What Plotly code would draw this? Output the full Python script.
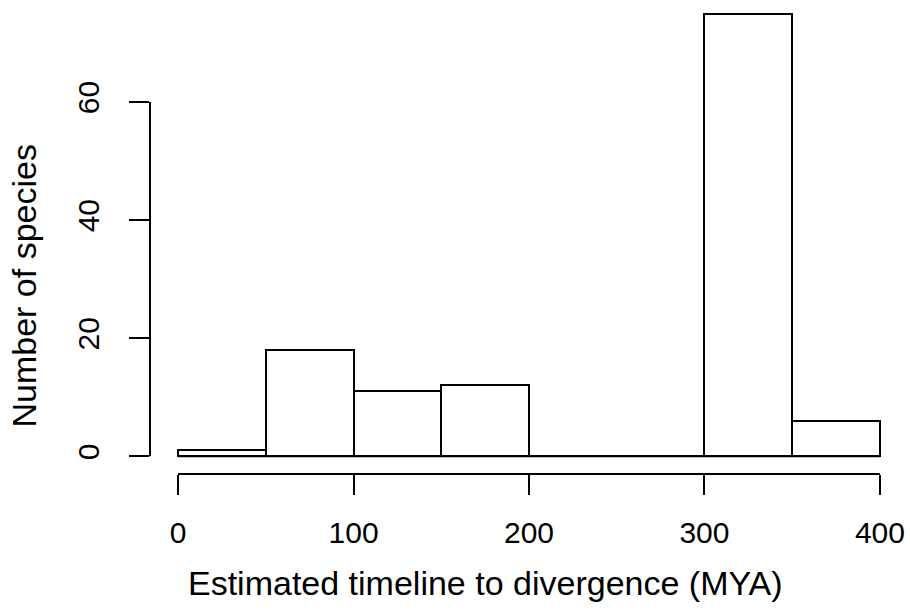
import plotly.graph_objects as go

breaks = [0, 50, 100, 150, 200, 250, 300, 350, 400]
counts = [1, 18, 11, 12, 0, 0, 75, 6]
x_ticks = [0, 100, 200, 300, 400]
y_ticks = [0, 20, 40, 60]
x_title = "Estimated timeline to divergence (MYA)"
y_title = "Number of species"

centers = [(a + b) / 2 for a, b in zip(breaks[:-1], breaks[1:])]
widths = [b - a for a, b in zip(breaks[:-1], breaks[1:])]

fam = "Liberation Sans, Arial, Helvetica, sans-serif"
tick_font = dict(family=fam, size=30, color="black")
title_font = dict(family=fam, size=34, color="black")

fig = go.Figure(go.Bar(
    x=centers, y=counts, width=widths,
    marker=dict(color="white", line=dict(color="black", width=2)),
    hoverinfo="skip",
))

xlo, xhi = breaks[0], breaks[-1]
xpad = 0.04 * (xhi - xlo)
ymax = max(counts)
ypad = 0.04 * ymax

fig.update_layout(
    width=910, height=610,
    margin=dict(l=150, r=2, t=0, b=136),
    plot_bgcolor="white", paper_bgcolor="white",
    font=tick_font, showlegend=False, bargap=0,
    xaxis=dict(range=[xlo - xpad, xhi + xpad], tickvals=x_ticks, ticktext=[str(v) for v in x_ticks],
               ticks="outside", ticklen=20, tickwidth=2, tickcolor="black", ticklabelstandoff=12,
               showgrid=False, zeroline=False, showline=False, tickfont=tick_font),
    yaxis=dict(range=[-ypad, ymax + 2.3], tickvals=y_ticks, ticktext=[str(v) for v in y_ticks],
               ticks="outside", ticklen=20, tickwidth=2, tickcolor="black", tickangle=-90,
               ticklabelstandoff=18,
               showgrid=False, zeroline=False, showline=False, tickfont=tick_font),
    annotations=[
        dict(text=x_title, xref="paper", yref="paper", x=0.442, y=-0.23,
             xanchor="center", yanchor="middle", showarrow=False, font=title_font),
        dict(text=y_title, xref="paper", yref="paper", x=-0.1662, y=0.3956, textangle=-90,
             xanchor="center", yanchor="middle", showarrow=False, font=title_font),
    ],
)

# axis lines spanning the tick range (R style), and baseline for zero-count bins
fig.add_shape(type="line", xref="x", yref="paper", x0=x_ticks[0], x1=x_ticks[-1], y0=0, y1=0,
              line=dict(color="black", width=2))
fig.add_shape(type="line", xref="paper", yref="y", x0=0, x1=0, y0=y_ticks[0], y1=y_ticks[-1],
              line=dict(color="black", width=2))
fig.add_shape(type="line", xref="x", yref="y", x0=breaks[0], x1=breaks[-1], y0=0, y1=0,
              line=dict(color="black", width=2))

fig.write_html("out.html")
